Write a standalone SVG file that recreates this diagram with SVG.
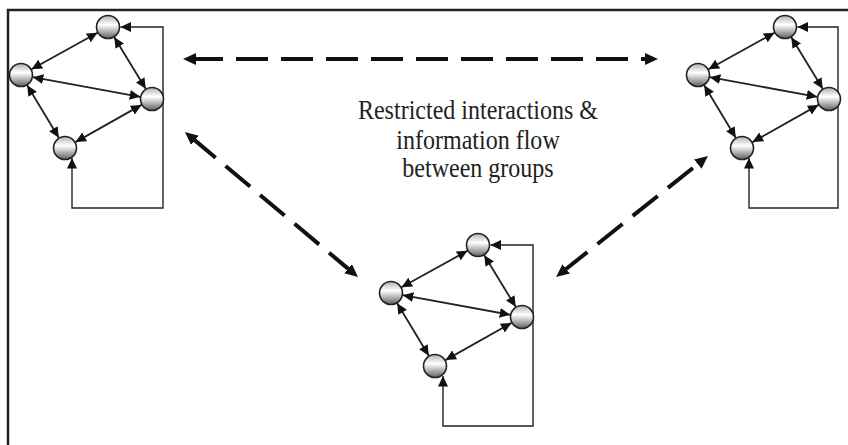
<svg xmlns="http://www.w3.org/2000/svg" width="848" height="445" viewBox="0 0 848 445">
<style>
.frame{fill:none;stroke:#222;stroke-width:2.5}
.edge{fill:none;stroke:#222;stroke-width:1.8;marker-start:url(#ah);marker-end:url(#ah)}
.loop{fill:none;stroke:#222;stroke-width:1.4;marker-start:url(#ah);marker-end:url(#ah)}
.dash{fill:none;stroke:#111;stroke-width:4;stroke-dasharray:32 13;marker-start:url(#bh);marker-end:url(#bh)}
.node{fill:url(#ng);stroke:#222;stroke-width:1.6}
.lbl{font-family:"Liberation Serif","Times New Roman",serif;font-size:27px;fill:#222;text-anchor:middle}
</style>
<defs>
<linearGradient id="ng" x1="0" y1="0" x2="0" y2="1">
<stop offset="0" stop-color="#b0b0b0"/>
<stop offset="0.4" stop-color="#ffffff"/>
<stop offset="1" stop-color="#606060"/>
</linearGradient>
<marker id="ah" markerUnits="userSpaceOnUse" markerWidth="12" markerHeight="11" refX="10.5" refY="5" orient="auto-start-reverse">
<path d="M0,0 L10.5,5 L0,10 z" fill="#111"/>
</marker>
<marker id="bh" markerUnits="userSpaceOnUse" markerWidth="14" markerHeight="13" refX="5" refY="6" orient="auto-start-reverse">
<path d="M0,0 L13,6 L0,12 z" fill="#111"/>
</marker>
</defs>
<rect width="848" height="445" fill="#fff"/>
<path class="frame" d="M8,445 V10 H848"/>

<g id="connectors">
  <g id="edges-group1" transform="translate(108,27)">
    <line class="edge" x1="-10.5" y1="5.8" x2="-76.5" y2="42.2"/>
    <line class="edge" x1="6.3" y1="10.2" x2="37.7" y2="61.8"/>
    <line class="edge" x1="-75.2" y1="50.2" x2="32.2" y2="69.8"/>
    <line class="edge" x1="-80.8" y1="58.3" x2="-49.2" y2="110.7"/>
    <line class="edge" x1="-32.5" y1="115.1" x2="33.5" y2="77.9"/>
    <path class="loop" d="M12.5,0 H55 V181 H-36 V131"/>
  </g>
  <g id="edges-group2" transform="translate(785,27)">
    <line class="edge" x1="-10.5" y1="5.8" x2="-76.5" y2="42.2"/>
    <line class="edge" x1="6.3" y1="10.2" x2="37.7" y2="61.8"/>
    <line class="edge" x1="-75.2" y1="50.2" x2="32.2" y2="69.8"/>
    <line class="edge" x1="-80.8" y1="58.3" x2="-49.2" y2="110.7"/>
    <line class="edge" x1="-32.5" y1="115.1" x2="33.5" y2="77.9"/>
    <path class="loop" d="M12.5,0 H53 V181 H-36 V131"/>
  </g>
  <g id="edges-group3" transform="translate(478,245)">
    <line class="edge" x1="-10.5" y1="5.8" x2="-76.5" y2="42.2"/>
    <line class="edge" x1="6.3" y1="10.2" x2="37.7" y2="61.8"/>
    <line class="edge" x1="-75.2" y1="50.2" x2="32.2" y2="69.8"/>
    <line class="edge" x1="-80.8" y1="58.3" x2="-49.2" y2="110.7"/>
    <line class="edge" x1="-32.5" y1="115.1" x2="33.5" y2="77.9"/>
    <path class="loop" d="M12.5,0 H55 V181 H-35 V131"/>
  </g>
  <line id="link-1-2" class="dash" x1="191" y1="59" x2="650" y2="59"/>
  <line id="link-1-3" class="dash" x1="191.1" y1="137.1" x2="351.9" y2="271.9"/>
  <line id="link-3-2" class="dash" x1="562.3" y1="272" x2="701.7" y2="161"/>
</g>

<g id="nodes">
  <g id="g1-top"><circle class="node" cx="108" cy="27" r="11.5"/></g>
  <g id="g1-left"><circle class="node" cx="21" cy="75" r="11.5"/></g>
  <g id="g1-right"><circle class="node" cx="152" cy="99" r="11.5"/></g>
  <g id="g1-bottom"><circle class="node" cx="65" cy="148" r="11.5"/></g>
  <g id="g2-top"><circle class="node" cx="785" cy="27" r="11.5"/></g>
  <g id="g2-left"><circle class="node" cx="698" cy="75" r="11.5"/></g>
  <g id="g2-right"><circle class="node" cx="829" cy="99" r="11.5"/></g>
  <g id="g2-bottom"><circle class="node" cx="742" cy="148" r="11.5"/></g>
  <g id="g3-top"><circle class="node" cx="478" cy="245" r="11.5"/></g>
  <g id="g3-left"><circle class="node" cx="391" cy="293" r="11.5"/></g>
  <g id="g3-right"><circle class="node" cx="522" cy="317" r="11.5"/></g>
  <g id="g3-bottom"><circle class="node" cx="435" cy="366" r="11.5"/></g>
</g>

<g id="label" transform="translate(478,0) scale(0.89,1)">
  <text class="lbl" x="0" y="119">Restricted interactions &amp;</text>
  <text class="lbl" x="0" y="149">information flow</text>
  <text class="lbl" x="0" y="177">between groups</text>
</g>
</svg>
